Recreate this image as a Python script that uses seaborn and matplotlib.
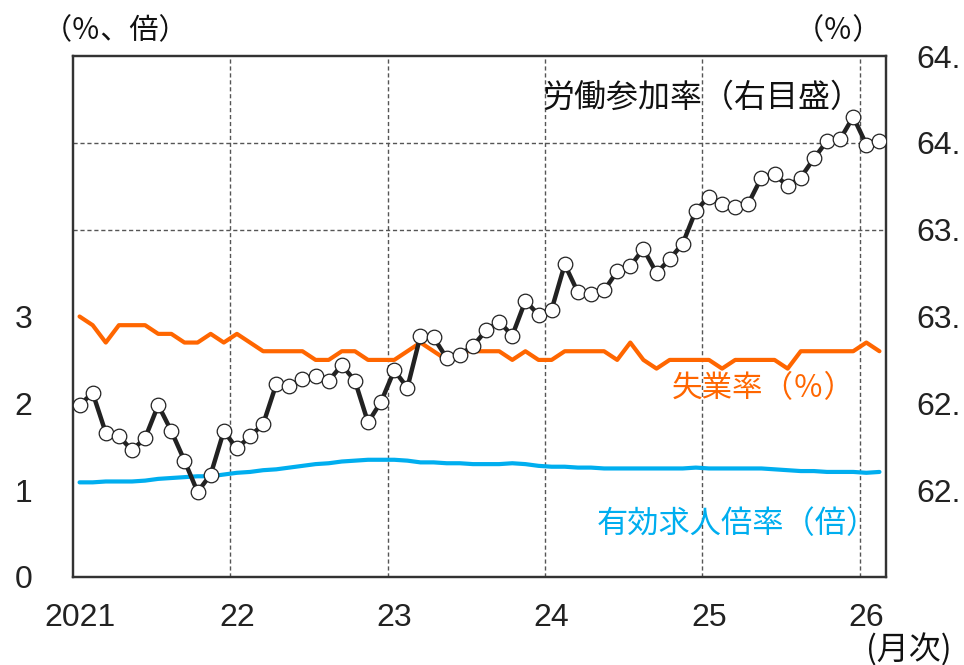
import matplotlib
matplotlib.use("Agg")
import matplotlib.pyplot as plt
import seaborn as sns
import pandas as pd

# ---- data (Jan 2021 .. Feb 2026, monthly) ----
participation = [62.49, 62.56, 62.33, 62.31, 62.23, 62.30, 62.49, 62.34, 62.17, 61.99, 62.09, 62.34,
                 62.24, 62.31, 62.38, 62.61, 62.60, 62.64, 62.66, 62.63, 62.72, 62.63, 62.39, 62.51,
                 62.69, 62.59, 62.89, 62.88, 62.76, 62.78, 62.83, 62.92, 62.97, 62.89, 63.09, 63.01,
                 63.04, 63.30, 63.14, 63.13, 63.15, 63.26, 63.29, 63.39, 63.25, 63.33, 63.42, 63.61,
                 63.69, 63.65, 63.63, 63.65, 63.80, 63.82, 63.75, 63.80, 63.91, 64.01, 64.02, 64.15,
                 63.99, 64.01]
unemployment = [3.0, 2.9, 2.7, 2.9, 2.9, 2.9, 2.8, 2.8, 2.7, 2.7, 2.8, 2.7,
                2.8, 2.7, 2.6, 2.6, 2.6, 2.6, 2.5, 2.5, 2.6, 2.6, 2.5, 2.5,
                2.5, 2.6, 2.7, 2.6, 2.5, 2.6, 2.6, 2.6, 2.6, 2.5, 2.6, 2.5,
                2.5, 2.6, 2.6, 2.6, 2.6, 2.5, 2.7, 2.5, 2.4, 2.5, 2.5, 2.5,
                2.5, 2.4, 2.5, 2.5, 2.5, 2.5, 2.4, 2.6, 2.6, 2.6, 2.6, 2.6,
                2.7, 2.6]
job_ratio = [1.09, 1.09, 1.10, 1.10, 1.10, 1.11, 1.13, 1.14, 1.15, 1.16, 1.16, 1.18,
             1.20, 1.21, 1.23, 1.24, 1.26, 1.28, 1.30, 1.31, 1.33, 1.34, 1.35, 1.35,
             1.35, 1.34, 1.32, 1.32, 1.31, 1.31, 1.30, 1.30, 1.30, 1.31, 1.30, 1.28,
             1.27, 1.27, 1.26, 1.26, 1.25, 1.25, 1.25, 1.25, 1.25, 1.25, 1.25, 1.26,
             1.25, 1.25, 1.25, 1.25, 1.25, 1.24, 1.23, 1.22, 1.22, 1.21, 1.21, 1.21,
             1.20, 1.21]
year_labels = ["2021", "22", "23", "24", "25", "26"]
left_ticks = [0, 1, 2, 3]
right_ticks = [62.0, 62.5, 63.0, 63.5, 64.0, 64.5]
# the reference image cuts the right-axis labels after the decimal point
right_tick_labels = ["62.", "62.", "63.", "63.", "64.", "64."]

month_pos = [i + 0.5 for i in range(len(participation))]
df = pd.DataFrame({"x": month_pos, "part": participation,
                   "unemp": unemployment, "ratio": job_ratio})

ORANGE = "#FF6600"
BLUE = "#00AEEF"
DARK = "#222222"

sns.set_theme(style="white")
plt.rcParams["font.family"] = ["Liberation Sans", "Noto Sans CJK JP", "DejaVu Sans"]
JP = ["Noto Sans CJK JP", "DejaVu Sans"]

fig = plt.figure(figsize=(9.64, 6.65), dpi=100)
ax = fig.add_axes([73 / 964, 1 - 577 / 665, (886 - 73) / 964, (577 - 56) / 665])

sns.lineplot(data=df, x="x", y="ratio", ax=ax, color=BLUE, linewidth=3.0, zorder=3)
sns.lineplot(data=df, x="x", y="unemp", ax=ax, color=ORANGE, linewidth=3.0, zorder=3)

ax.set_xlim(0, 62)
ax.set_ylim(0, 6)
ax.set_xticks([12 * k + 0.5 for k in range(len(year_labels))])
ax.set_xticklabels(year_labels)
ax.set_xticks([12, 24, 36, 48, 60], minor=True)
ax.set_yticks(left_ticks)
ax.set_yticklabels([str(t) for t in left_ticks])
ax.set_yticks([1, 2, 3, 4, 5], minor=True)
ax.grid(False)
ax.grid(which="minor", color="#555555", linestyle=(0, (3, 2)), linewidth=1.0)
ax.tick_params(axis="x", which="both", length=0, pad=19, labelsize=23, colors="#222222")
ax.tick_params(axis="y", which="both", length=0, pad=29, labelsize=23, colors="#222222")
ax.set_xlabel("")
ax.set_ylabel("")
for s in ax.spines.values():
    s.set_color("#333333")
    s.set_linewidth(1.6)

ax2 = ax.twinx()
sns.lineplot(data=df, x="x", y="part", ax=ax2, color=DARK, linewidth=3.2,
             marker="o", markersize=10.5, markerfacecolor="white",
             markeredgecolor="#222222", markeredgewidth=0.9, zorder=4)
ax2.set_ylim(61.5, 64.5)
ax2.set_yticks(right_ticks)
ax2.set_yticklabels(right_tick_labels)
ax2.tick_params(axis="y", length=0, pad=22, labelsize=23, colors="#222222")
ax2.set_ylabel("")
ax2.grid(False)
for s in ax2.spines.values():
    s.set_color("#333333")
    s.set_linewidth(1.6)

def ftxt(x, y, s, color="#111111", size=21):
    fig.text(x / 964, 1 - y / 665, s, ha="left", va="center", color=color,
             fontsize=size, family=JP)

ftxt(43, 31, "（％、倍）")
ftxt(795, 31, "（％）")
ftxt(542, 98, "労働参加率（右目盛）", size=23)
ftxt(672, 389, "失業率（％）", color=ORANGE, size=22)
ftxt(597, 524, "有効求人倍率（倍）", color=BLUE, size=22.5)
ftxt(866, 650, "(月次)", size=23)

fig.savefig("out.png", dpi=100)
